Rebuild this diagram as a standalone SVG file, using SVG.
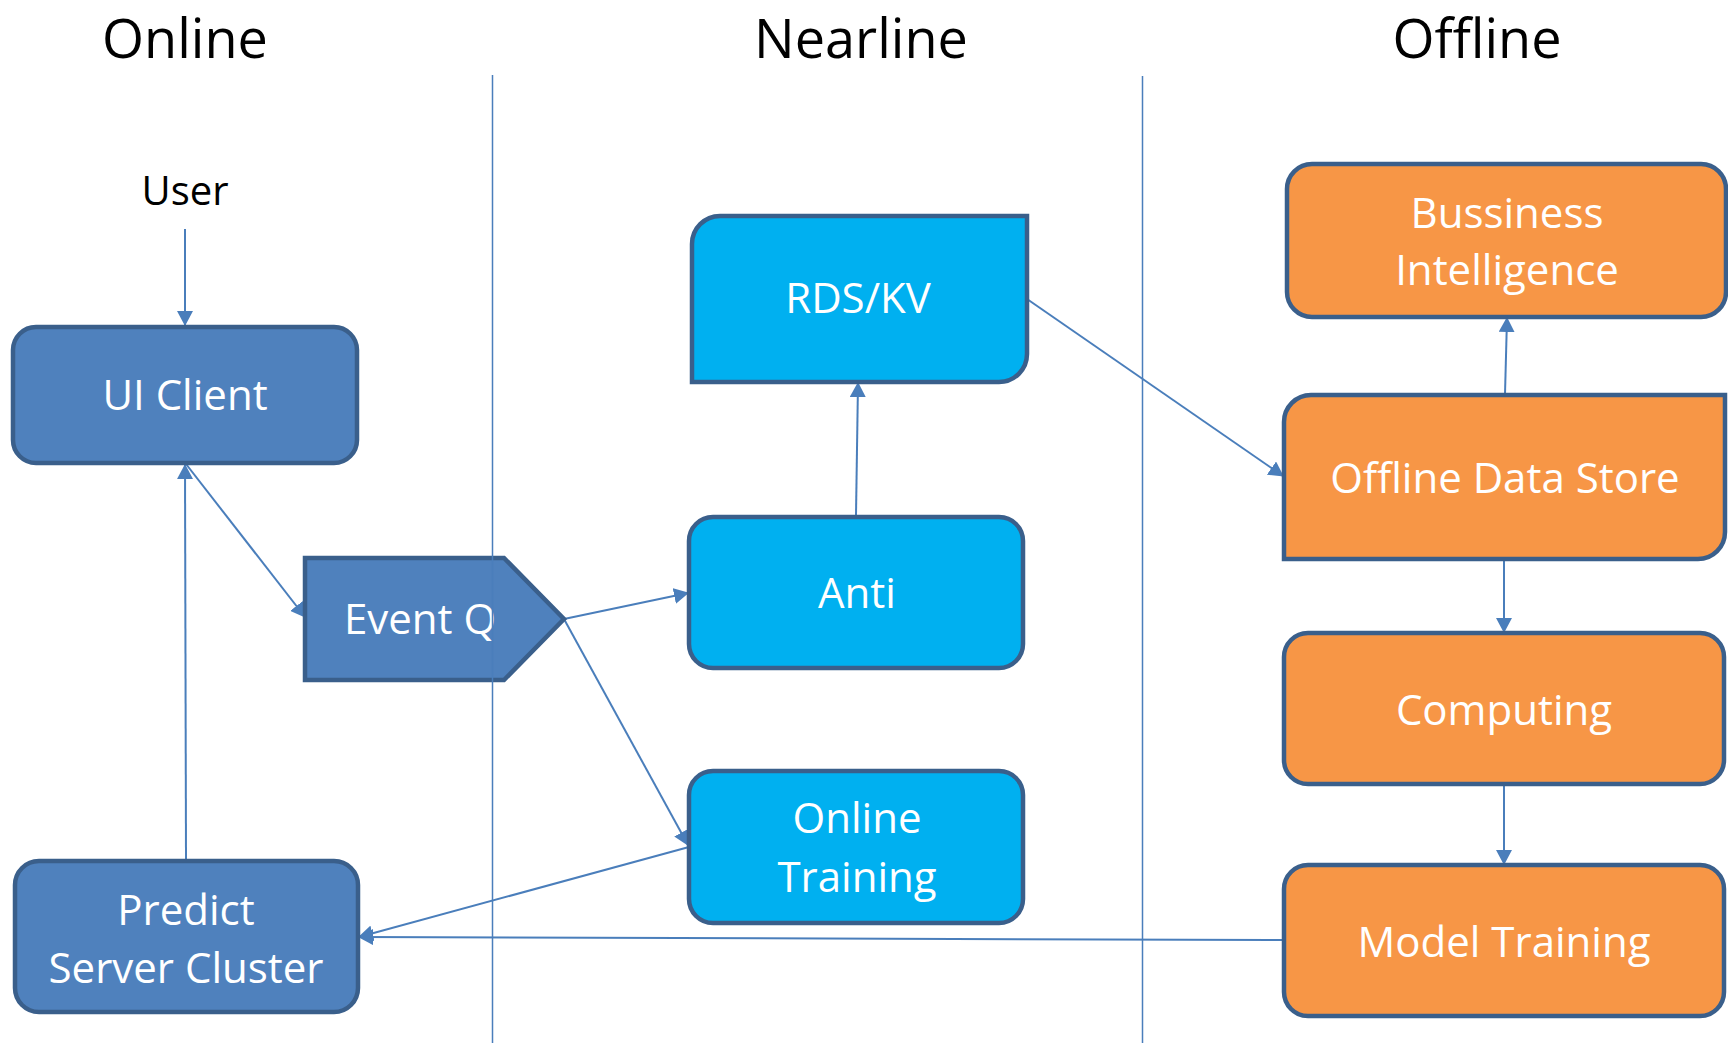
<svg xmlns="http://www.w3.org/2000/svg" width="1728" height="1043" viewBox="0 0 1728 1043">
  <defs>
    <marker id="arrow" markerUnits="userSpaceOnUse" markerWidth="15" markerHeight="16" viewBox="0 0 15 16" refX="14" refY="8" orient="auto">
      <path d="M0,0 L15,8 L0,16 z" fill="#4A7EBB"/>
    </marker>
    <style>
      .title { font-family: "Open Sans", "Liberation Sans", sans-serif; font-size: 54px; fill: #000; text-anchor: middle; }
      .plain { font-family: "Open Sans", "Liberation Sans", sans-serif; font-size: 40px; fill: #000; text-anchor: middle; }
      .label { font-family: "Open Sans", "Liberation Sans", sans-serif; font-size: 42px; fill: #fff; text-anchor: middle; }
      .blue { fill: #4F81BD; stroke: #3A5F8B; stroke-width: 4.5; }
      .cyan { fill: #00B0F0; stroke: #3A5F8B; stroke-width: 4.5; }
      .orange { fill: #F79646; stroke: #3A5F8B; stroke-width: 4.5; }
      .conn { fill: none; stroke: #4A7EBB; stroke-width: 2; marker-end: url(#arrow); }
      .sep { stroke: #4A7EBB; stroke-width: 1.5; }
    </style>
  </defs>

  <rect width="1728" height="1043" fill="#fff"/>

  <!-- column headings -->
  <text class="title" x="185" y="58">Online</text>
  <text class="title" x="861" y="58">Nearline</text>
  <text class="title" x="1477" y="58">Offline</text>

  <text class="plain" x="185" y="205">User</text>

  <!-- connectors -->
  <g id="connectors">
    <line class="conn" x1="185" y1="229" x2="185" y2="325"/>
    <line class="conn" x1="186" y1="464" x2="305" y2="617"/>
    <line class="conn" x1="186" y1="860" x2="185" y2="465"/>
    <line class="conn" x1="564" y1="619" x2="688" y2="593"/>
    <line class="conn" x1="564" y1="619" x2="688" y2="845"/>
    <line class="conn" x1="689" y1="847" x2="359" y2="937"/>
    <line class="conn" x1="1284" y1="940" x2="359" y2="937"/>
    <line class="conn" x1="856" y1="515" x2="858" y2="383"/>
    <line class="conn" x1="1027" y1="299" x2="1283" y2="476"/>
    <line class="conn" x1="1505" y1="394" x2="1507" y2="318"/>
    <line class="conn" x1="1504" y1="560" x2="1504" y2="632"/>
    <line class="conn" x1="1504" y1="785" x2="1504" y2="864"/>
  </g>

  <!-- online column -->
  <g id="ui-client">
    <rect class="blue" x="13" y="327" width="344" height="136" rx="23"/>
    <text class="label" x="185" y="410">UI Client</text>
  </g>
  <g id="event-q">
    <path class="blue" d="M305,558 L504,558 L564,619 L504,680 L305,680 z"/>
    <text class="label" x="420" y="634">Event Q</text>
  </g>
  <g id="predict-server-cluster">
    <rect class="blue" x="15" y="861" width="343" height="151" rx="24"/>
    <text class="label" x="186" y="925">Predict</text>
    <text class="label" x="186" y="983">Server Cluster</text>
  </g>

  <!-- nearline column -->
  <g id="rds-kv">
    <path class="cyan" d="M720,216 L1027,216 L1027,354 A28,28 0 0 1 999,382 L692,382 L692,244 A28,28 0 0 1 720,216 z"/>
    <text class="label" x="858" y="313">RDS/KV</text>
  </g>
  <g id="anti">
    <rect class="cyan" x="689" y="517" width="334" height="151" rx="24"/>
    <text class="label" x="857" y="608">Anti</text>
  </g>
  <g id="online-training">
    <rect class="cyan" x="689" y="771" width="334" height="152" rx="24"/>
    <text class="label" x="857" y="833">Online</text>
    <text class="label" x="857" y="892">Training</text>
  </g>

  <!-- offline column -->
  <g id="business-intelligence">
    <rect class="orange" x="1287" y="164" width="439" height="153" rx="25"/>
    <text class="label" x="1507" y="228">Bussiness</text>
    <text class="label" x="1507" y="285">Intelligence</text>
  </g>
  <g id="offline-data-store">
    <path class="orange" d="M1311,395 L1725,395 L1725,532 A27,27 0 0 1 1698,559 L1284,559 L1284,422 A27,27 0 0 1 1311,395 z"/>
    <text class="label" x="1505" y="493">Offline Data Store</text>
  </g>
  <g id="computing">
    <rect class="orange" x="1284" y="633" width="440" height="151" rx="24"/>
    <text class="label" x="1504" y="725">Computing</text>
  </g>
  <g id="model-training">
    <rect class="orange" x="1284" y="865" width="440" height="151" rx="24"/>
    <text class="label" x="1504" y="957">Model Training</text>
  </g>

  <!-- column separators -->
  <g id="separators">
    <line class="sep" x1="492.5" y1="75" x2="492.5" y2="1043"/>
    <line class="sep" x1="1142.5" y1="76" x2="1142.5" y2="1043"/>
  </g>
</svg>
